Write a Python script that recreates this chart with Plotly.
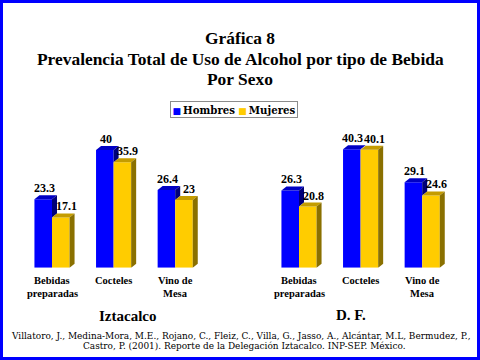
import plotly.graph_objects as go

# ---------------- data ----------------
categories = ["Bebidas<br>preparadas", "Cocteles", "Vino de<br>Mesa"]
panels = ["Iztacalco", "D. F."]
series_names = ["Hombres", "Mujeres"]
hombres_iztacalco = [23.3, 40, 26.4]
mujeres_iztacalco = [17.1, 35.9, 23]
hombres_df = [26.3, 40.3, 29.1]
mujeres_df = [20.8, 40.1, 24.6]
title_lines = ["Gráfica 8", "Prevalencia Total de Uso de Alcohol por tipo de Bebida", "Por Sexo"]
footnote_lines = [
    "Villatoro, J., Medina-Mora, M.E., Rojano, C., Fleiz, C., Villa, G., Jasso, A., Alcántar, M.L, Bermudez, P.,",
    "Castro, P. (2001). Reporte de la Delegación Iztacalco. INP-SEP. México.",
]

# ---------------- layout constants ----------------
W, H = 480, 360
PX_PER_CAT = 61.6
PX_PER_UNIT = 2.94
BASE_PX = 267.7
Y_RANGE = [0, 50]
X_RANGE = [-0.7, 2.8]
PANEL_CAT0_PX = [52, 299]
BAR_W = 0.285
DX = 5 / PX_PER_CAT
DY = 4 / PX_PER_UNIT

BLUE, BLUE_TOP, BLUE_SIDE = "#0000FF", "#0000C4", "#00007A"
YEL, YEL_TOP, YEL_SIDE = "#FFCC00", "#C49C00", "#8A7000"
SERIF = "Liberation Serif, Times New Roman, serif"
WIDE_SERIF = "DejaVu Serif, serif"


def py(px):
    return 1 - px / H


fig = go.Figure()
annotations = []
panel_data = [(hombres_iztacalco, mujeres_iztacalco), (hombres_df, mujeres_df)]

for p, (hom, muj) in enumerate(panel_data):
    xa = "x" if p == 0 else "x2"
    ya = "y" if p == 0 else "y2"
    c0 = PANEL_CAT0_PX[p]
    dom = [(c0 + X_RANGE[0] * PX_PER_CAT) / W, (c0 + X_RANGE[1] * PX_PER_CAT) / W]
    axname = "xaxis" if p == 0 else "xaxis2"
    yname = "yaxis" if p == 0 else "yaxis2"
    fig.layout[axname] = dict(domain=dom, range=X_RANGE, visible=False, fixedrange=True)
    fig.layout[yname] = dict(domain=[py(BASE_PX), py(BASE_PX - Y_RANGE[1] * PX_PER_UNIT)],
                             range=Y_RANGE, visible=False, fixedrange=True)
    if p == 1:
        fig.layout[yname].anchor = "x2"
        fig.layout[axname].anchor = "y2"

    xs_h = [i - BAR_W / 2 for i in range(len(categories))]
    xs_m = [i + BAR_W / 2 for i in range(len(categories))]

    for name, xs, vals, col in [(series_names[0], xs_h, hom, BLUE), (series_names[1], xs_m, muj, YEL)]:
        fig.add_trace(go.Bar(x=xs, y=vals, width=BAR_W, marker=dict(color=col, line=dict(width=0)),
                             name=name, showlegend=False, xaxis=xa, yaxis=ya, hoverinfo="skip"))

    # 3D faces
    for i in range(len(categories)):
        for xs, vals, top_c, side_c, is_front_series, lab_shift in [
            (xs_h, hom, BLUE_TOP, BLUE_SIDE, True, -1.5), (xs_m, muj, YEL_TOP, YEL_SIDE, False, 3)
        ]:
            v = vals[i]
            xl, xr = xs[i] - BAR_W / 2, xs[i] + BAR_W / 2
            # top face
            fig.add_trace(go.Scatter(x=[xl, xl + DX, xr + DX, xr, xl], y=[v, v + DY, v + DY, v, v],
                                     mode="lines", fill="toself", fillcolor=top_c, line=dict(width=0),
                                     showlegend=False, xaxis=xa, yaxis=ya, hoverinfo="skip"))
            # side face (blue side only visible above the yellow bar)
            low = min(muj[i], v) if is_front_series else 0
            fig.add_trace(go.Scatter(x=[xr, xr + DX, xr + DX, xr, xr], y=[low, low + DY, v + DY, v, low],
                                     mode="lines", fill="toself", fillcolor=side_c, line=dict(width=0),
                                     showlegend=False, xaxis=xa, yaxis=ya, hoverinfo="skip"))
            annotations.append(dict(x=xs[i] + DX / 2, y=v + DY, xref=xa, yref=ya, text=f"<b>{v:g}</b>",
                                    showarrow=False, xanchor="center", yanchor="bottom",
                                    xshift=lab_shift, yshift=-2,
                                    font=dict(family=SERIF, size=12, color="black")))

    # category labels
    for i, cat in enumerate(categories):
        for j, line in enumerate(cat.split("<br>")):
            annotations.append(dict(x=i, y=py(280 + 13.5 * j), xref=xa, yref="paper", text=f"<b>{line}</b>",
                                    showarrow=False, xanchor="center", yanchor="middle",
                                    font=dict(family=SERIF, size=10.5, color="black")))

# panel labels
annotations.append(dict(x=127 / W, y=py(316), xref="paper", yref="paper", text=f"<b>{panels[0]}</b>",
                        showarrow=False, xanchor="center", yanchor="middle",
                        font=dict(family=SERIF, size=15, color="black")))
annotations.append(dict(x=350.7 / W, y=py(314.5), xref="paper", yref="paper", text=f"<b>{panels[1]}</b>",
                        showarrow=False, xanchor="center", yanchor="middle",
                        font=dict(family=SERIF, size=15, color="black")))

# title
for line, ypx in zip(title_lines, [38, 59, 79]):
    annotations.append(dict(x=0.5, y=py(ypx), xref="paper", yref="paper", text=f"<b>{line}</b>",
                            showarrow=False, xanchor="center", yanchor="middle",
                            font=dict(family=SERIF, size=17.4, color="black")))

# legend
legend_text = (f"<span style='color:{BLUE};font-size:9px'>■</span>\u2009<b>{series_names[0]}</b> "
               f"<span style='color:{YEL};font-size:9px'>■</span>\u2009<b>{series_names[1]}</b>")
annotations.append(dict(x=233.7 / W, y=py(109.4), xref="paper", yref="paper", text=legend_text,
                        showarrow=False, xanchor="center", yanchor="middle",
                        bordercolor="#8c8c8c", borderwidth=1, borderpad=1.5, bgcolor="white",
                        font=dict(family=WIDE_SERIF, size=10.2, color="black")))

# footnote
for line, ypx, xpx in zip(footnote_lines, [335.5, 345.5], [241, 245]):
    annotations.append(dict(x=xpx / W, y=py(ypx), xref="paper", yref="paper", text=line,
                            showarrow=False, xanchor="center", yanchor="middle",
                            font=dict(family=WIDE_SERIF, size=8.95, color="black")))

fig.update_layout(
    width=W, height=H, margin=dict(l=0, r=0, t=0, b=0),
    paper_bgcolor="white", plot_bgcolor="rgba(0,0,0,0)",
    barmode="overlay", showlegend=False, annotations=annotations,
    shapes=[dict(type="rect", xref="paper", yref="paper", x0=0, x1=1, y0=0, y1=1,
                 line=dict(color="#0000FF", width=6), layer="above")],
)

fig.write_html("out.html", config={"displayModeBar": False},
               post_script="document.body.style.margin='0';document.body.style.overflow='hidden';")
